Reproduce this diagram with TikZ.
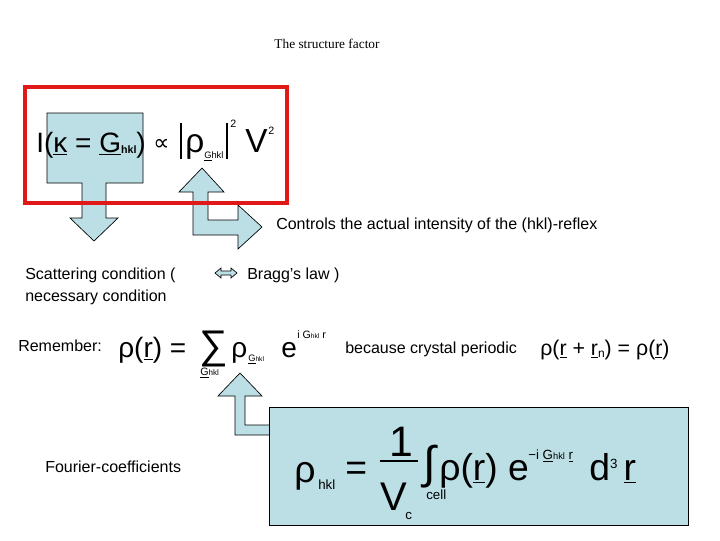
\documentclass[tikz,border=0pt]{standalone}
\usepackage{fontspec}
\setmainfont{Liberation Sans}
\newfontfamily\titlefont{Liberation Serif}
\newfontfamily\djv{DejaVu Sans}
\definecolor{ablue}{HTML}{BCDFE5}
\definecolor{fred}{HTML}{E01818}
\newcommand\ul[1]{\underline{#1}}
\newcommand\fs[1]{\fontsize{#1}{#1}\selectfont}
\begin{document}
\begin{tikzpicture}[x=0.75pt,y=-0.75pt,
  shp/.style={fill=ablue,draw=black,line width=0.5pt},
  txt/.style={anchor=base west,inner sep=0pt,font=\fs{12}},
  big/.style={anchor=base west,inner sep=0pt}]
\useasboundingbox (0,0) rectangle (720,540);
\node[anchor=base,inner sep=0pt,font=\titlefont\fs{10}] (title) at (327,48) {The structure factor};
% box + down arrow
\draw[shp] (47,113) -- (143,113) -- (143,183) -- (106,183) -- (106,218) -- (118,218) -- (94,241) -- (70,218) -- (82,218) -- (82,183) -- (47,183) -- cycle;
% bent arrow 1
\draw[shp] (202,168) -- (224,192) -- (208,192) -- (208,220) -- (238,220) -- (238,205) -- (262,227) -- (238,249) -- (238,235) -- (193,235) -- (193,192) -- (179,192) -- cycle;
\draw[fred,line width=3pt] (25,87) rectangle (287,203);
% top formula
\node[big,font=\fs{21}] (f1) at (36,152) {I(\ul{κ} = \ul{G}\raisebox{-1pt}{\fs{8}\bfseries hkl})};
\node[big,font=\djv\fs{17}] (prop) at (153,150) {∝};
\draw[line width=0.8pt] (181,123) -- (181,159) (227,123) -- (227,159);
\node[big,font=\fs{25}] (rho1) at (185,152) {ρ};
\node[big,font=\fs{7}] (rs1) at (204,158) {\ul{G}hkl};
\node[big,font=\fs{8}] (sq1) at (230,127) {2};
\node[big,font=\fs{25}] (V1) at (245,152) {V};
\node[big,font=\fs{8}] (sq2) at (268,134) {2};
\node[txt] (ctrl) at (276,229) {Controls the actual intensity of the (hkl)-reflex};
% scattering
\node[txt] (scat) at (25,279) {Scattering condition (};
\draw[shp] (215,273) -- (221,268) -- (221,271) -- (231,271) -- (231,268) -- (237,273) -- (231,278) -- (231,275) -- (221,275) -- (221,278) -- cycle;
\node[txt] (bragg) at (247,279) {Bragg’s law )};
\node[txt] (nec) at (25,301) {necessary condition};
% remember row
\node[txt] (rem) at (18,351) {Remember:};
\node[big,font=\fs{21}] (f2) at (118,357) {ρ(\ul{r}) =};
\node[big,font=\fs{30}] (sum) at (199,358) {∑};
\node[big,font=\fs{8}] (sumsub) at (200,375) {\ul{G}\raisebox{0pt}{\fs{6}hkl}};
\node[big,font=\fs{21}] (rho2) at (231,357) {ρ};
\node[big,font=\fs{7}] (rs2) at (248,361) {\ul{G}\fs{5}hkl};
\node[big,font=\fs{21}] (e2) at (281,357) {e};
\node[big,font=\fs{8}] (ex2) at (297,338) {i G\fs{5}hkl\fs{8} r};
\node[txt] (bec) at (345,353) {because crystal periodic};
\node[big,font=\fs{16}] (per) at (540,355) {ρ(\ul{r} + \ul{r}\raisebox{-2pt}{\fs{9}n}) = ρ(\ul{r})};
% bent arrow 2
\draw[shp] (240,373) -- (262,396) -- (245,396) -- (245,425) -- (277,425) -- (277,410) -- (302,431) -- (277,452) -- (277,435) -- (235,435) -- (235,396) -- (218,396) -- cycle;
% big box
\draw[shp] (269,407) rectangle (688,525);
\node[big,font=\fs{28}] (rho3) at (294,482) {ρ};
\node[big,font=\fs{10}] (hkl3) at (318,489) {hkl};
\node[big,font=\fs{28}] (eq3) at (345,480) {=};
\node[big,font=\fs{32}] (one) at (389,456) {1};
\draw[line width=0.8pt] (380,461) -- (418,461);
\node[big,font=\fs{30}] (Vc) at (380,510) {V};
\node[big,font=\fs{10}] (c) at (405,519) {c};
\node[big,font=\fs{34}] (int) at (423,478) {∫};
\node[big,font=\fs{10}] (cell) at (426,499) {cell};
\node[big,font=\fs{28}] (rr) at (439,480) {ρ(\ul{r}) e};
\node[big,font=\fs{10}] (ex3) at (528,459) {−i \ul{G}\fs{7}hkl\fs{10} \ul{r}};
\node[big,font=\fs{28}] (d3) at (589,480) {d\raisebox{9pt}{\fs{10}3}\,\ul{r}};
\node[txt] (four) at (45,472) {Fourier-coefficients};
\end{tikzpicture}
\end{document}
